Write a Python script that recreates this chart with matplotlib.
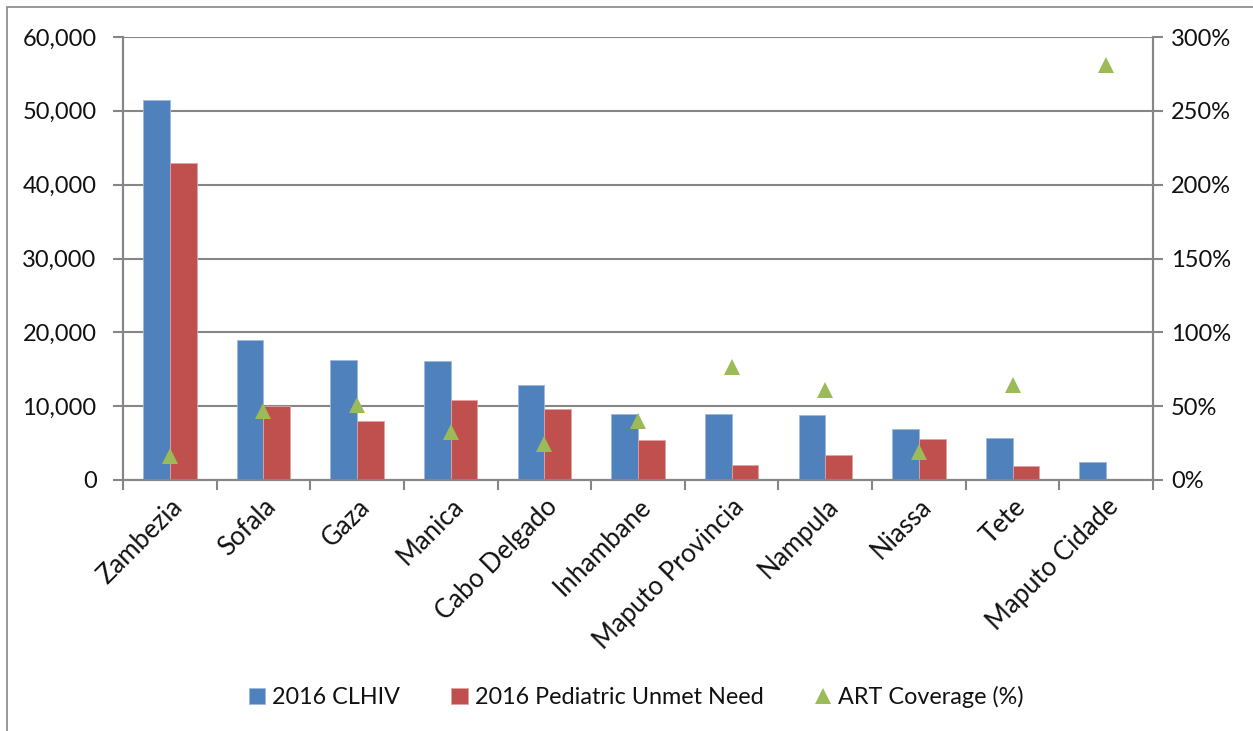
import matplotlib
matplotlib.use("Agg")
import matplotlib.pyplot as plt
import numpy as np
from matplotlib.ticker import FuncFormatter, FixedLocator
from matplotlib.patches import Rectangle

provinces = ["Zambezia", "Sofala", "Gaza", "Manica", "Cabo Delgado", "Inhambane",
             "Maputo Provincia", "Nampula", "Niassa", "Tete", "Maputo Cidade"]
clhiv = [51450, 18900, 16280, 16100, 12820, 9000, 8910, 8860, 6860, 5730, 2460]
unmet_need = [42940, 10000, 7950, 10820, 9630, 5400, 1990, 3410, 5540, 1950, 0]
art_coverage = [16.4, 46.7, 51.0, 32.2, 24.4, 39.7, 76.5, 60.9, 19.1, 64.2, 281.0]

BLUE = "#4F81BD"
RED = "#C0504D"
GREEN = "#9BBB59"
GRID = "#868686"

plt.rcParams["font.family"] = ["Lato", "DejaVu Sans"]
plt.rcParams["font.size"] = 17
plt.rcParams["text.color"] = "#111111"

fig = plt.figure(figsize=(12.53, 7.31), dpi=100)
W, H = 1253, 731
left, right, top, bottom = 123, 1153, 37, 480
ax = fig.add_axes([left / W, 1 - bottom / H, (right - left) / W, (bottom - top) / H])

# outer chart frame
fig.patches.append(Rectangle((7 / W, -0.01), 1.2, 1 - 7 / H + 0.01, transform=fig.transFigure,
                             fill=False, edgecolor=GRID, linewidth=1.2))

x = np.arange(len(provinces))
bw = 0.285
ax.bar(x - bw / 2, clhiv, width=bw, color=BLUE, edgecolor="#9DB8DB", linewidth=0.6,
       label="2016 CLHIV", zorder=3)
ax.bar(x + bw / 2, unmet_need, width=bw, color=RED, edgecolor="#E0A3A1", linewidth=0.6,
       label="2016 Pediatric Unmet Need", zorder=3)

ax.set_xlim(-0.5, len(provinces) - 0.5)
ax.set_ylim(0, 60000)
ax.set_yticks(np.arange(0, 60001, 10000))
ax.yaxis.set_major_formatter(FuncFormatter(lambda v, p: f"{int(v):,}"))
ax.grid(axis="y", color=GRID, linewidth=1.5, zorder=0)
ax.set_axisbelow(True)

ax.xaxis.set_major_locator(FixedLocator(np.arange(-0.5, len(provinces), 1.0)))
ax.xaxis.set_minor_locator(FixedLocator(x))
ax.set_xticklabels([])
ax.set_xticklabels(provinces, minor=True, rotation=45, ha="right", rotation_mode="anchor",
                   fontsize=18.5)
ax.tick_params(axis="x", which="major", length=7, width=1.5, color=GRID, direction="out")
ax.tick_params(axis="x", which="minor", length=0, pad=10, labelcolor="#111111")
ax.tick_params(axis="y", length=7, width=1.5, color=GRID, pad=12, labelcolor="#111111")

for s in ["left", "bottom", "right"]:
    ax.spines[s].set_color(GRID)
    ax.spines[s].set_linewidth(1.5)
ax.spines["top"].set_visible(False)

ax2 = ax.twinx()
ax2.plot(x, art_coverage, linestyle="none", marker="^", markersize=11, color=GREEN,
         markeredgewidth=0, label="ART Coverage (%)", zorder=4)
ax2.set_ylim(0, 300)
ax2.set_yticks(np.arange(0, 301, 50))
ax2.yaxis.set_major_formatter(FuncFormatter(lambda v, p: f"{int(v)}%"))
ax2.tick_params(axis="y", length=7, width=1.5, color=GRID, pad=6, labelcolor="#111111")
for s in ["left", "bottom", "right"]:
    ax2.spines[s].set_color(GRID)
    ax2.spines[s].set_linewidth(1.5)
ax2.spines["top"].set_visible(False)

h1, l1 = ax.get_legend_handles_labels()
h2, l2 = ax2.get_legend_handles_labels()
fig.legend(h1 + h2, l1 + l2, loc="center", bbox_to_anchor=(636 / W, 1 - 697 / H), ncol=3,
           frameon=False, handlelength=0.7, handleheight=0.7, handletextpad=0.3,
           columnspacing=2.2, fontsize=16.8)

fig.savefig("out.png", dpi=100)
